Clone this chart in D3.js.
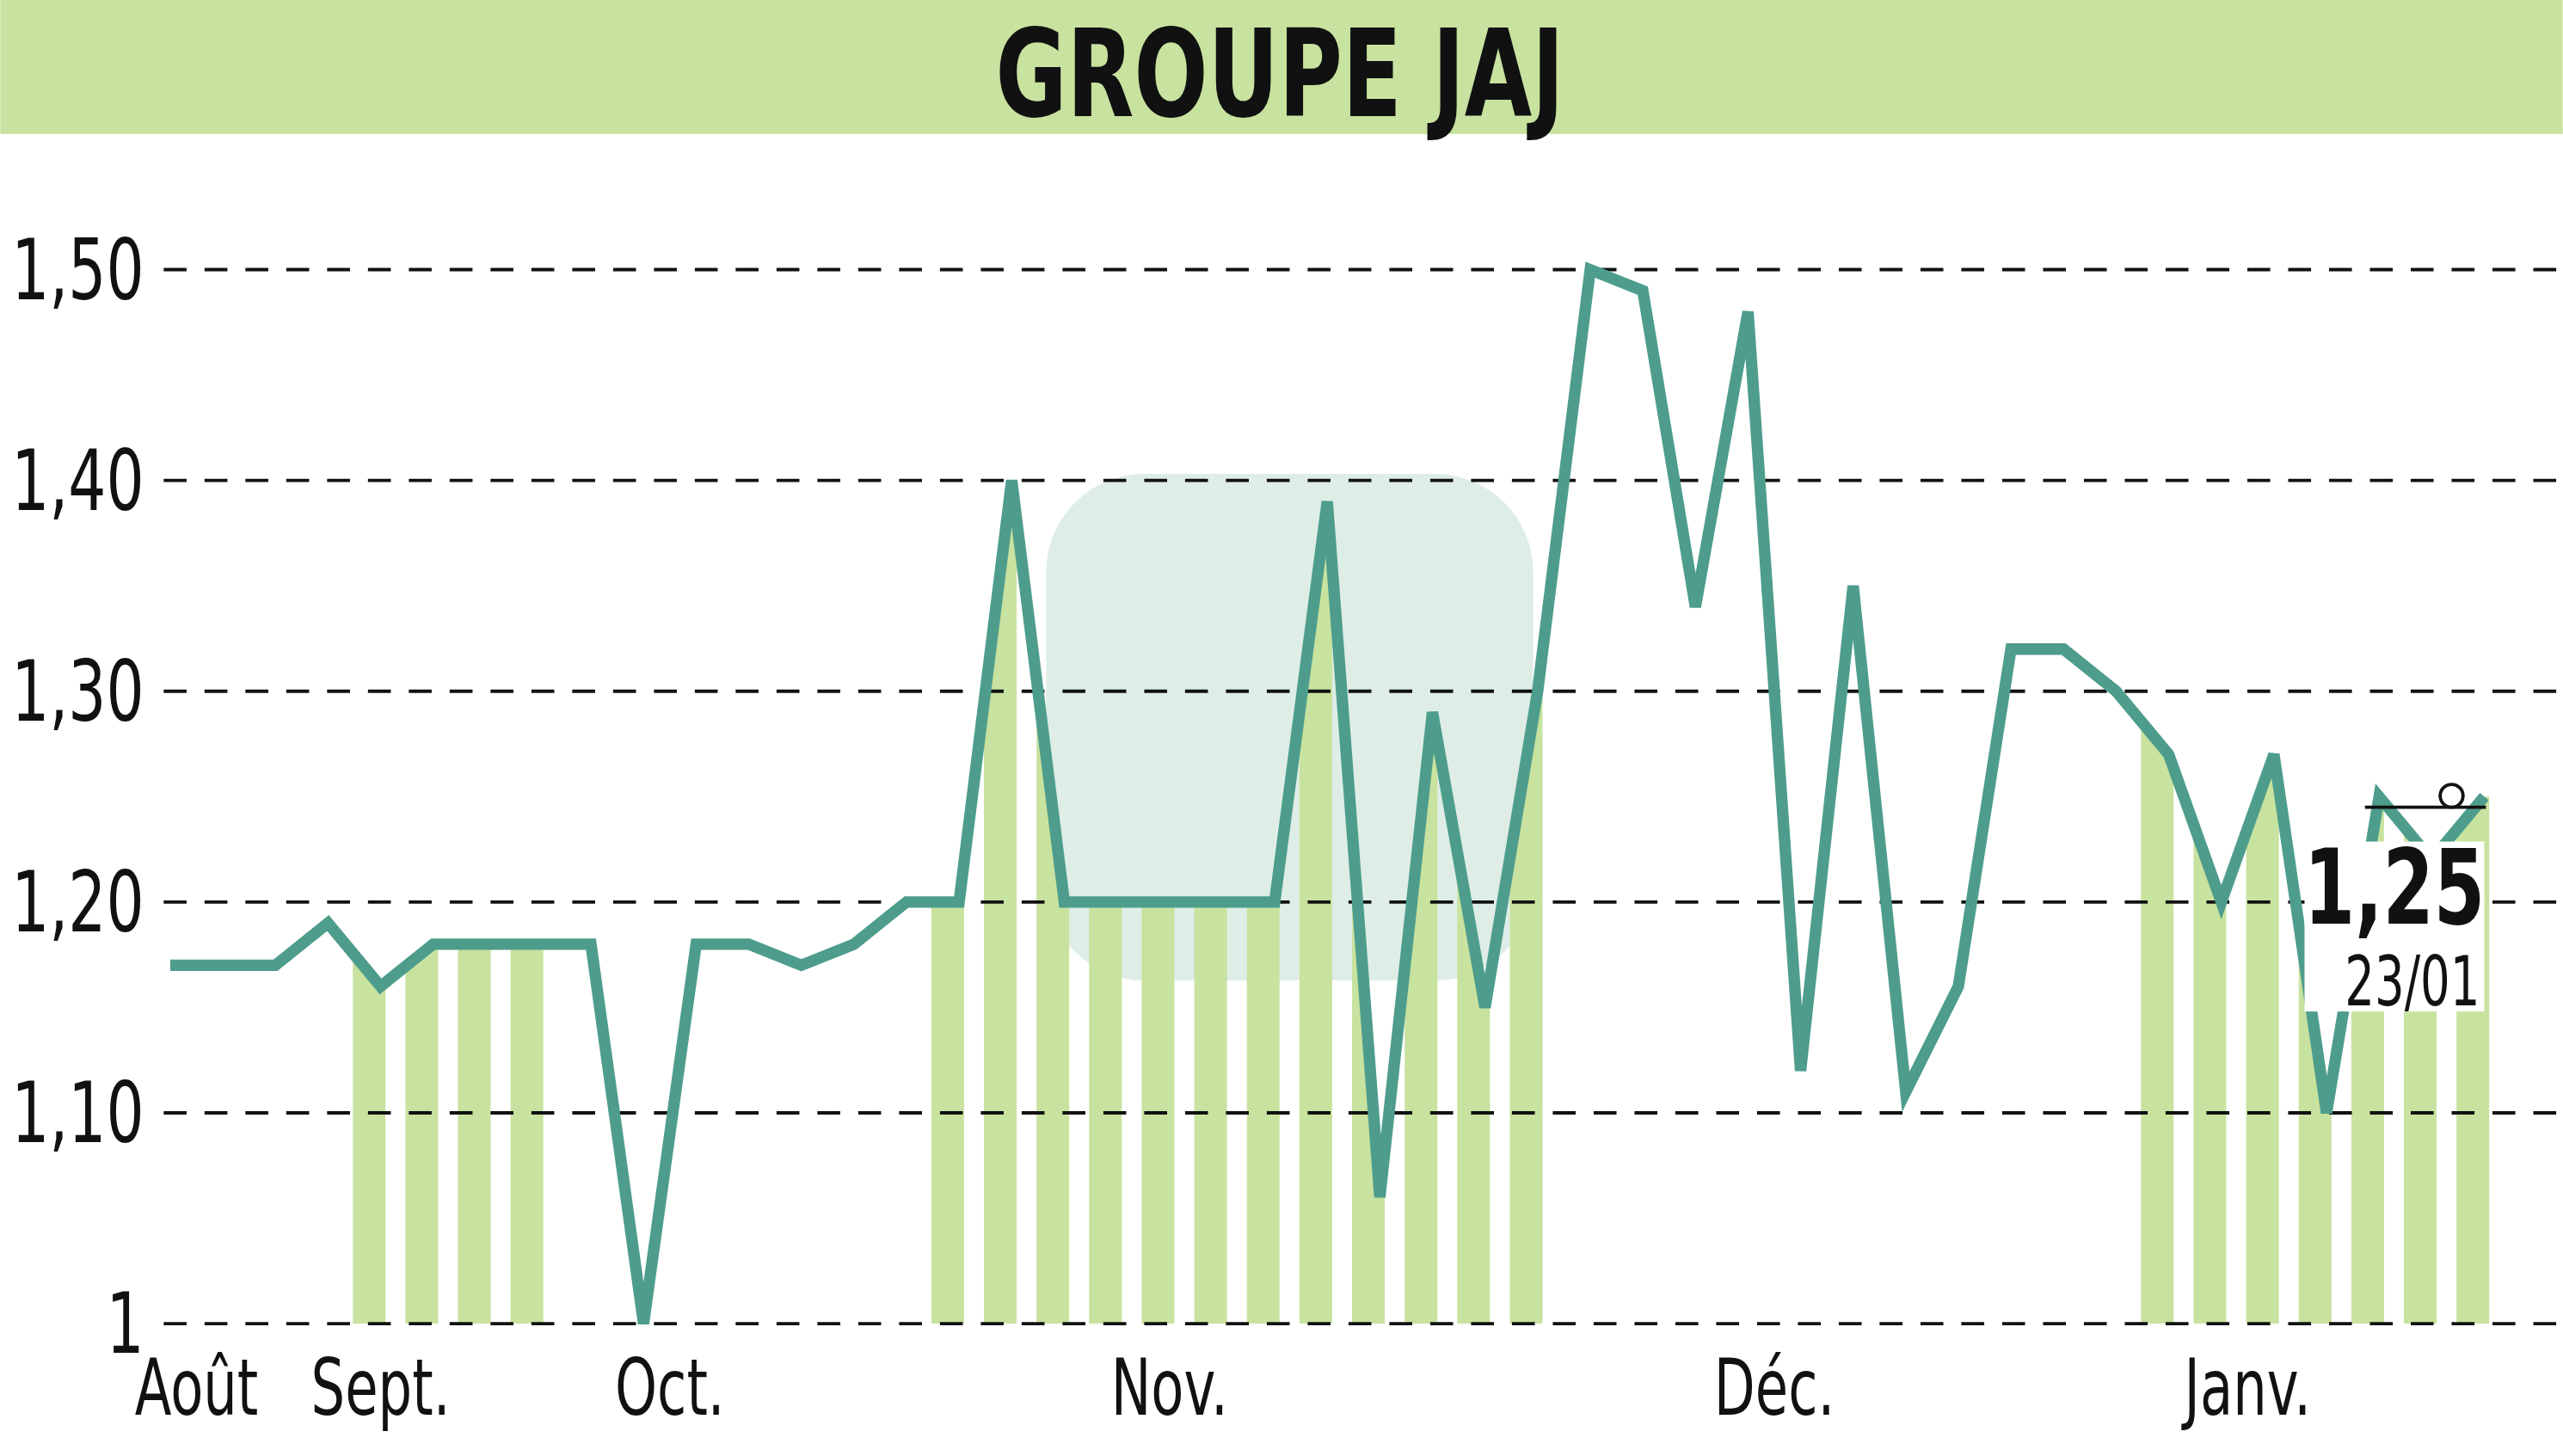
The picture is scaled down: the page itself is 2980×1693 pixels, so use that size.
<!DOCTYPE html>
<html><head><meta charset="utf-8">
<script src="https://cdn.jsdelivr.net/npm/d3@7"></script>
<style>body{margin:0;background:#fff}svg{display:block}</style>
</head><body>
<div id="chart"></div>
<script>
var prices = [1.17,1.17,1.17,1.19,1.16,1.18,1.18,1.18,1.18,1.00,
	1.18,1.18,1.17,1.18,1.20,1.20,1.40,1.20,1.20,1.20,
	1.20,1.20,1.39,1.06,1.29,1.15,1.30,1.50,1.49,1.34,
	1.48,1.12,1.35,1.11,1.16,1.32,1.32,1.30,1.27,1.20,
	1.27,1.10,1.25,1.22,1.25];
var barIdx = [4,5,6,7,15,16,17,18,19,20,21,22,23,24,25,26,38,39,40,41,42,43,44];
var yTicks = [1.0,1.1,1.2,1.3,1.4,1.5];
var yLabels = ["1","1,10","1,20","1,30","1,40","1,50"];
var months = ["Août","Sept.","Oct.","Nov.","Déc.","Janv."];
var monthPos = [0.5,4,9.5,19,30.5,39.5];

var W = 1568, H = 891;
var font = "'DejaVu Sans Condensed','DejaVu Sans',sans-serif";
var svg = d3.select("#chart").append("svg")
	.attr("width", 2980).attr("height", 1693)
	.attr("viewBox", "0 0 " + W + " " + H);

var x = d3.scaleLinear().domain([0, 44]).range([104, 1520]);
var y = d3.scaleLinear().domain([1, 1.5]).range([810, 165]);

// condensed text helper
function txt(px, py, s, size, anchor, bold, sx) {
	return svg.append("text")
		.attr("transform", "translate(" + px + "," + py + ") scale(" + (sx || 0.8) + ",1)")
		.attr("text-anchor", anchor).attr("font-family", font)
		.attr("font-weight", bold ? "bold" : "normal")
		.attr("font-size", size).attr("fill", "#111").text(s);
}

// title bar
svg.append("rect").attr("width", W).attr("height", 82).attr("fill", "#c8e29f");
txt(783, 71, "GROUPE JAJ", 74, "middle", true, 0.8);

// faint watermark
svg.append("rect").attr("x", 640).attr("y", 290).attr("width", 298).attr("height", 310)
	.attr("rx", 60).attr("fill", "#5aa882").attr("opacity", 0.2);

// bars clipped by area under line
var pts = [[x(0) - 20, y(prices[0])]].concat(prices.map(function(p, i) { return [x(i), y(p)]; }))
	.concat([[x(44) + 10, y(prices[44])]]);
svg.append("clipPath").attr("id", "under").append("path")
	.attr("d", d3.area().x(function(d) { return d[0]; }).y0(y(1)).y1(function(d) { return d[1]; })(pts));
svg.append("g").attr("clip-path", "url(#under)")
	.selectAll("rect").data(barIdx).enter().append("rect")
	.attr("x", function(d) { return x(d) - 17; })
	.attr("width", 20)
	.attr("y", y(1.6)).attr("height", y(1) - y(1.6))
	.attr("fill", "#c8e29f");

// grid
svg.selectAll("line.grid").data(yTicks).enter().append("line")
	.attr("x1", 100).attr("x2", W)
	.attr("y1", function(d) { return y(d); }).attr("y2", function(d) { return y(d); })
	.attr("stroke", "#111").attr("stroke-width", 2).attr("stroke-dasharray", "14,11");
yTicks.forEach(function(d, i) { txt(88, y(d) + 18, yLabels[i], 52, "end", false, 0.78); });

// months
months.forEach(function(m, i) { txt(x(monthPos[i]), 866, m, 48, "middle", false, 0.76); });

// price line
svg.append("path").datum(prices)
	.attr("d", d3.line().x(function(d, i) { return x(i); }).y(function(d) { return y(d); }))
	.attr("fill", "none").attr("stroke", "#4e9d8c").attr("stroke-width", 7).attr("stroke-linejoin", "miter");

// last value label
svg.append("rect").attr("x", 1410).attr("y", 515).attr("width", 110).attr("height", 104).attr("fill", "#fff");
svg.append("line").attr("x1", 1447).attr("x2", 1521).attr("y1", 494).attr("y2", 494)
	.attr("stroke", "#111").attr("stroke-width", 2);
svg.append("circle").attr("cx", 1500).attr("cy", 487).attr("r", 7)
	.attr("fill", "none").attr("stroke", "#111").attr("stroke-width", 2);
txt(1465, 565, "1,25", 64, "middle", true, 0.78);
txt(1476, 615, "23/01", 42, "middle", false, 0.76);
</script>
</body></html>
